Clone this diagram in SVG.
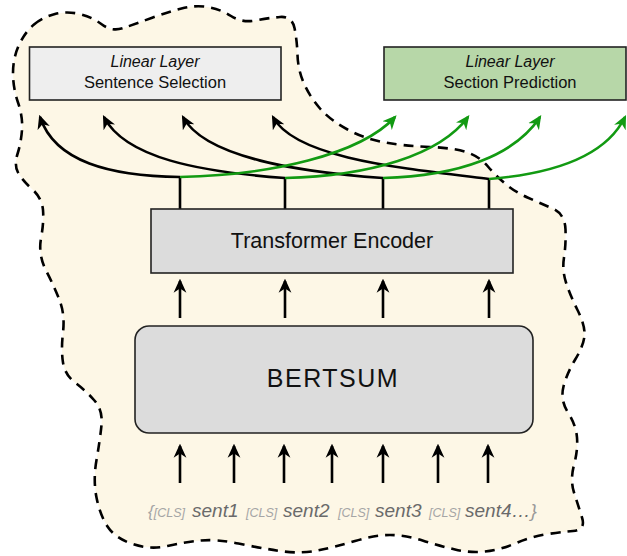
<svg xmlns="http://www.w3.org/2000/svg" width="627" height="556" viewBox="0 0 627 556">
<style>
.box{stroke:#222;stroke-width:1.6}
.t{font-family:"Liberation Sans",Arial,sans-serif;fill:#111;text-anchor:middle}
.blk{fill:none;stroke:#000;stroke-width:2.6}
.grn{fill:none;stroke:#129a12;stroke-width:2.6}
.cls{font-family:"Liberation Sans",Arial,sans-serif;font-style:italic;font-size:12.5px;fill:#a5a5a5}
.snt{font-family:"Liberation Sans",Arial,sans-serif;font-style:italic;font-size:19px;fill:#6a6a6a}
</style>
<defs>
<marker id="ab" viewBox="0 0 12 12" refX="10" refY="6" markerWidth="14" markerHeight="14" markerUnits="userSpaceOnUse" orient="auto"><path d="M0,0.5 L12,6 L0,11.5 L3.5,6 Z" fill="#000"/></marker>
<marker id="ag" viewBox="0 0 12 12" refX="10" refY="6" markerWidth="14" markerHeight="14" markerUnits="userSpaceOnUse" orient="auto"><path d="M0,0.5 L12,6 L0,11.5 L3.5,6 Z" fill="#129a12"/></marker>
</defs>
<g id="background">
<path fill="#fdf7e6" stroke="#000" stroke-width="2.6" stroke-dasharray="10,7" d="M34,24.5 Q43,17 55,14 Q67,11 79.5,14 Q92,17 102,24.5 Q112,32 123.5,28 Q135,24 151.5,18 Q168,12 181.5,8.5 Q195,5 207.5,7 Q220,9 231,16 Q242,23 255,20.5 Q268,18 280,17 Q292,16 294.5,28 Q297,40 297.5,55 Q298,70 304,83.5 Q310,97 320,108.5 Q330,120 347.5,129.5 Q365,139 385,142.5 Q405,146 430,147 Q455,148 467.5,152.5 Q480,157 487.5,166 Q495,175 505,183.5 Q515,192 527.5,197.5 Q540,203 552.5,208.5 Q565,214 565.5,229.5 Q566,245 564,257.5 Q562,270 566,282.5 Q570,295 577.5,310 Q585,325 584.5,335 Q584,345 575.5,359 Q567,373 563.5,386.5 Q560,400 568,412.5 Q576,425 577,437.5 Q578,450 574,465 Q570,480 574,492.5 Q578,505 582,517.5 Q586,530 573,531 Q560,532 545,534.5 Q530,537 515,543.5 Q500,550 485,551.5 Q470,553 455,549.5 Q440,546 422.5,540.5 Q405,535 390,535 Q375,535 355,541 Q335,547 317.5,550.5 Q300,554 280,551 Q260,548 238.5,543.5 Q217,539 201,540.5 Q185,542 167.5,546 Q150,550 132.5,544 Q115,538 107.5,526.5 Q100,515 96.5,497.5 Q93,480 96.5,460 Q100,440 101.5,425 Q103,410 94,400 Q85,390 75,382.5 Q65,375 63,362.5 Q61,350 63,332.5 Q65,315 60,301.5 Q55,288 46.5,271.5 Q38,255 41,238.5 Q44,222 43,210 Q42,198 32,189 Q22,180 18,172.5 Q14,165 17.5,154 Q21,143 22,130 Q23,117 18,102.5 Q13,88 13,73 Q13,58 19,45 Q25,32 34,24.5 Z"/>
</g>
<g id="connectors">
<path class="blk" d="M180,209 V177 M285,209 V178 M383,209 V178 M489,209 V179"/>
<path class="blk" marker-end="url(#ab)" d="M180,177 C110,176 55,162 40,117"/>
<path class="blk" marker-end="url(#ab)" d="M285,178 C200,172 125,158 104,117"/>
<path class="blk" marker-end="url(#ab)" d="M383,178 C300,172 205,158 183,117"/>
<path class="blk" marker-end="url(#ab)" d="M489,179 C400,168 295,158 273,117"/>
<path class="grn" marker-end="url(#ag)" d="M180,177 C270,175 360,155 395,117"/>
<path class="grn" marker-end="url(#ag)" d="M285,178 C370,176 440,155 468,117"/>
<path class="grn" marker-end="url(#ag)" d="M383,178 C460,176 515,155 540,117"/>
<path class="grn" marker-end="url(#ag)" d="M489,179 C550,174 605,158 625,117"/>
<path class="blk" marker-end="url(#ab)" d="M180,318 V281"/>
<path class="blk" marker-end="url(#ab)" d="M285,318 V281"/>
<path class="blk" marker-end="url(#ab)" d="M383,318 V281"/>
<path class="blk" marker-end="url(#ab)" d="M489,318 V281"/>
<path class="blk" marker-end="url(#ab)" d="M180,483 V446"/>
<path class="blk" marker-end="url(#ab)" d="M234,483 V446"/>
<path class="blk" marker-end="url(#ab)" d="M284,483 V446"/>
<path class="blk" marker-end="url(#ab)" d="M332,483 V446"/>
<path class="blk" marker-end="url(#ab)" d="M383,483 V446"/>
<path class="blk" marker-end="url(#ab)" d="M438,483 V446"/>
<path class="blk" marker-end="url(#ab)" d="M488,483 V446"/>
</g>
<g id="sentence-selection">
<rect class="box" x="29.5" y="47" width="251.5" height="53" fill="#eeeeee"/>
<text class="t" x="155" y="67" font-size="16" font-style="italic">Linear Layer</text>
<text class="t" x="155" y="88" font-size="16.5">Sentence Selection</text>
</g>
<g id="section-prediction">
<rect class="box" x="384" y="47" width="242" height="53" fill="#b7d7a8"/>
<text class="t" x="510" y="67" font-size="16" font-style="italic">Linear Layer</text>
<text class="t" x="510" y="88" font-size="16.5">Section Prediction</text>
</g>
<g id="transformer-encoder">
<rect class="box" x="151" y="209" width="362" height="64" fill="#dcdcdc"/>
<text class="t" x="332" y="248" font-size="21.5">Transformer Encoder</text>
</g>
<g id="bertsum">
<rect class="box" x="135" y="326" width="398" height="107" rx="14" fill="#dcdcdc"/>
<text class="t" x="333" y="387" font-size="25" letter-spacing="1.5">BERTSUM</text>
</g>
<g id="input-text">
<text class="cls" x="148" y="517"><tspan style="font-size:17px">{</tspan>[CLS]</text>
<text class="snt" x="192" y="517">sent1</text>
<text class="cls" x="246" y="517">[CLS]</text>
<text class="snt" x="283" y="517">sent2</text>
<text class="cls" x="338" y="517">[CLS]</text>
<text class="snt" x="375" y="517">sent3</text>
<text class="cls" x="429" y="517">[CLS]</text>
<text class="snt" x="465" y="517">sent4…<tspan fill="#999">}</tspan></text>
</g>
</svg>
